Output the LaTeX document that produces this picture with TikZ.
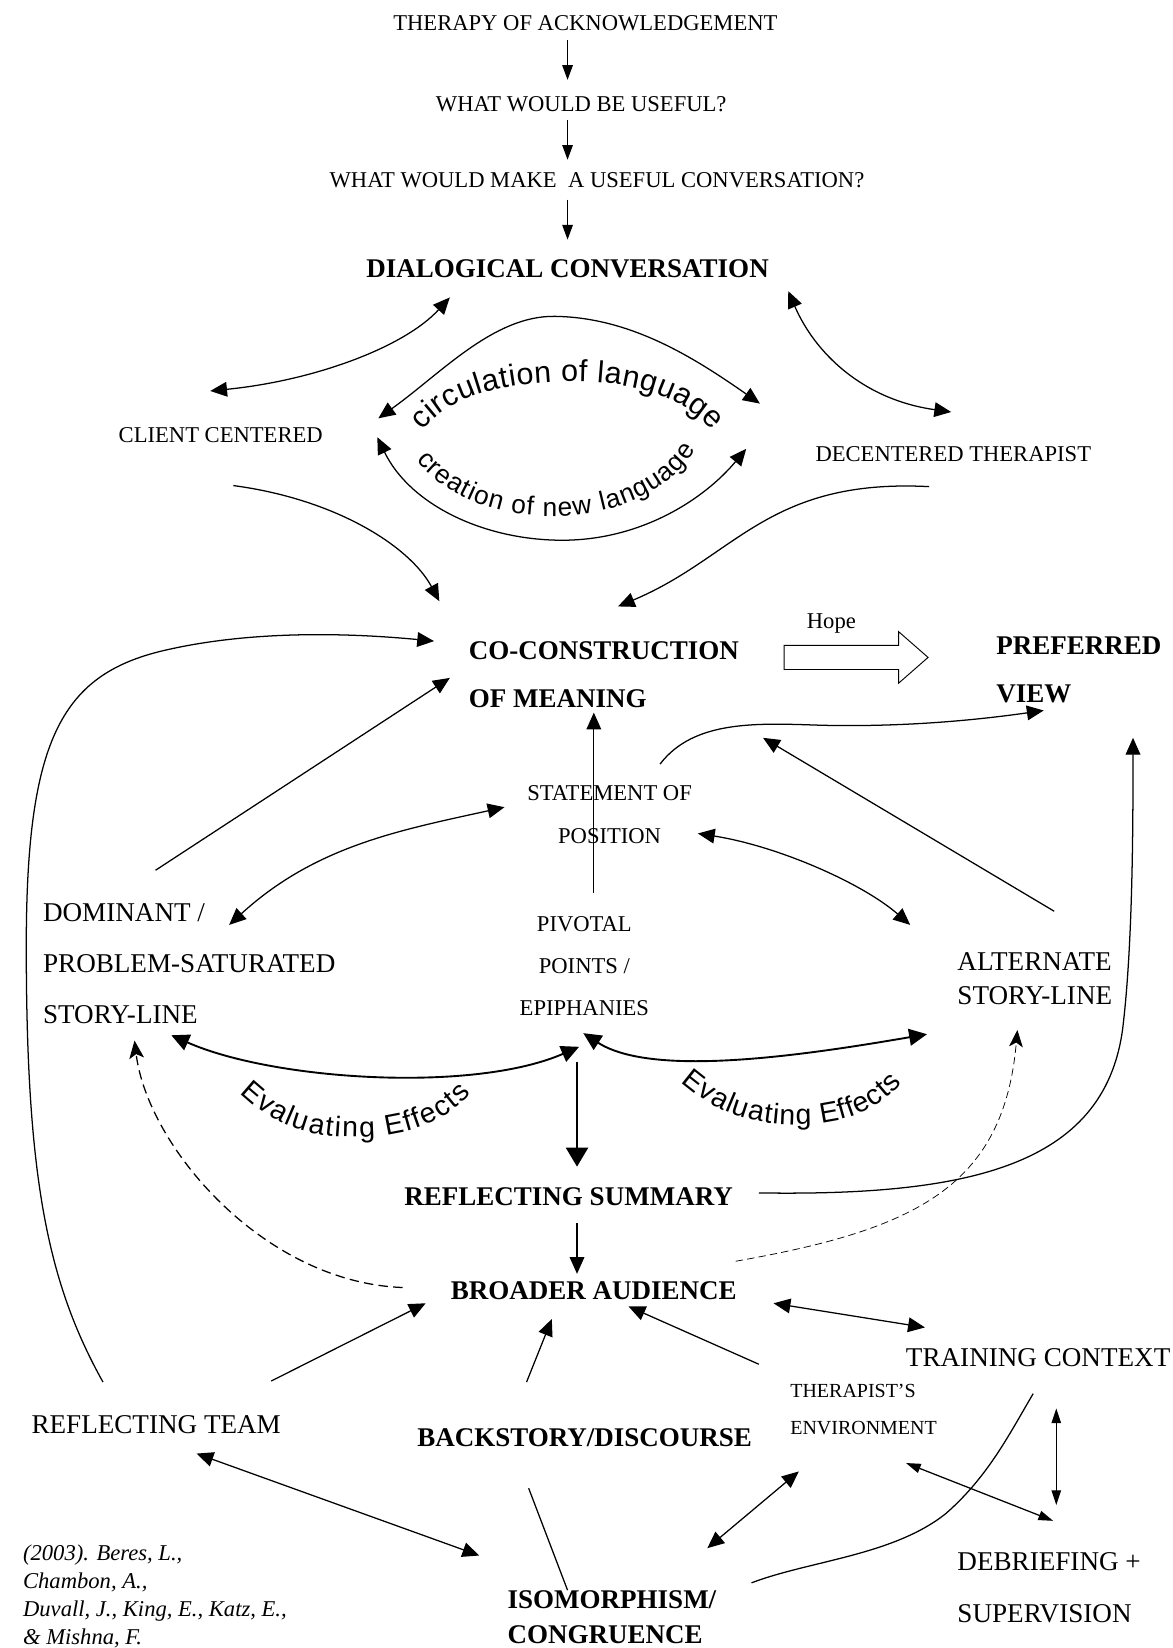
\documentclass[tikz,border=0pt]{standalone}
\usepackage{fontspec}
\setmainfont{Liberation Serif}
\newfontfamily\arialf{Liberation Sans}
\usetikzlibrary{arrows.meta,decorations.text}
\tikzset{
  txt/.style={inner sep=0pt, outer sep=0pt, font=\fontsize{21.5}{26}\selectfont},
  txtL/.style={inner sep=0pt, outer sep=0pt, font=\fontsize{25.8}{48.5}\selectfont},
  txtB/.style={inner sep=0pt, outer sep=0pt, font=\bfseries\fontsize{25.7}{46}\selectfont},
  txtS/.style={inner sep=0pt, outer sep=0pt, font=\fontsize{19}{36}\selectfont},
  txtI/.style={inner sep=0pt, outer sep=0pt, font=\itshape\fontsize{21.5}{26.7}\selectfont},
  ln/.style={line width=1.2pt},
  sarr/.style={ln, -{Triangle[length=14pt,width=10pt]}},
  arr/.style={ln, -{Triangle[length=16pt,width=14pt]}},
  darr/.style={ln, {Triangle[length=16pt,width=14pt]}-{Triangle[length=16pt,width=14pt]}},
  sdarr/.style={ln, {Triangle[length=14pt,width=9pt]}-{Triangle[length=14pt,width=9pt]}},
  tdarr/.style={line width=1.8pt, {Triangle[length=17pt,width=16pt]}-{Triangle[length=17pt,width=16pt]}},
  tarr/.style={line width=1.7pt, -{Triangle[length=18pt,width=21pt]}},
  dasharr/.style={ln, dash pattern=on 9pt off 5pt, -{Stealth[length=17pt,width=14pt,inset=4pt]}},
  tdasharr/.style={line width=0.7pt, dash pattern=on 7pt off 4pt, -{Stealth[length=16pt,width=13pt,inset=4pt]}},
  curvtxt/.style={decorate, decoration={text along path, text align={fit to path}, text={#1}}}
}
\begin{document}
\begin{tikzpicture}[x=1pt,y=-1pt]
\useasboundingbox (0,0) rectangle (1116,1568);
\fill[white] (0,0) rectangle (1116,1568);

% ---------- texts (multi-line nodes: base = last line) ----------
\node[txt, anchor=base] (t1) at (557,29) {THERAPY OF ACKNOWLEDGEMENT};
\node[txt, anchor=base] (t2) at (553,106) {WHAT WOULD BE USEFUL?};
\node[txt, anchor=base] (t3) at (568,178) {WHAT WOULD MAKE\ \ A USEFUL CONVERSATION?};
\node[txtB, anchor=base] (dc) at (540,264.5) {DIALOGICAL CONVERSATION};
\node[txt, anchor=base] (cc) at (210,421) {CLIENT CENTERED};
\node[txt, anchor=base] (dt) at (907,439) {DECENTERED THERAPIST};
\node[txtB, anchor=base west, align=left] (co) at (446,673.5) {CO-CONSTRUCTION\\OF MEANING};
\node[txtB, anchor=base west, align=left] (pv) at (948,668.5) {PREFERRED\\VIEW};
\node[txt, anchor=base] (hope) at (791,598) {Hope};
\node[txt, anchor=base, align=center, font=\fontsize{21.5}{41}\selectfont] (sp) at (580,803) {STATEMENT OF\\POSITION};
\node[txtL, anchor=base west, align=left] (dom) at (41,973.5) {DOMINANT /\\PROBLEM-SATURATED\\STORY-LINE};
\node[txt, anchor=base, align=center, font=\fontsize{21.5}{40}\selectfont] (piv) at (556,966) {PIVOTAL\\POINTS /\\EPIPHANIES};
\node[txtL, anchor=base west, align=left, font=\fontsize{25.8}{32}\selectfont] (alt) at (911,955.5) {ALTERNATE\\STORY-LINE};
\node[txtB, anchor=base] (rs) at (541,1146.5) {REFLECTING SUMMARY};
\node[txtB, anchor=base] (ba) at (565,1236.5) {BROADER AUDIENCE};
\node[txtL, anchor=base west] (tc) at (862,1300.5) {TRAINING CONTEXT};
\node[txtS, anchor=base west, align=left] (te) at (752,1365.3) {THERAPIST’S\\ENVIRONMENT};
\node[txtL, anchor=base west] (rt) at (30,1363.5) {REFLECTING TEAM};
\node[txtB, anchor=base west] (bd) at (397,1376.5) {BACKSTORY/DISCOURSE};
\node[txtB, anchor=base west, align=left, font=\bfseries\fontsize{25.7}{33}\selectfont] (iso) at (483,1563.5) {ISOMORPHISM/\\CONGRUENCE};
\node[txtL, anchor=base west, align=left, font=\fontsize{25.8}{49}\selectfont] (deb) at (911,1543.5) {DEBRIEFING +\\SUPERVISION};
\node[txtI, anchor=base west, align=left] (cit) at (22,1565) {(2003). Beres, L.,\\Chambon, A.,\\Duvall, J., King, E., Katz, E.,\\\& Mishna, F.};

% ---------- connector end points ----------
\coordinate (t1o) at (540,38);   \coordinate (t2i) at (540,76);
\coordinate (t2o) at (540,114);  \coordinate (t3i) at (540,152);
\coordinate (t3o) at (540,190);  \coordinate (dci) at (540,228);
\coordinate (dcL) at (428,283);  \coordinate (ccU) at (200,372);
\coordinate (dcR) at (750,277);  \coordinate (dtU) at (905,392);
\coordinate (cirL) at (360,398); \coordinate (cirR) at (723,384);
\coordinate (creL) at (359,416); \coordinate (creR) at (710,427);
\coordinate (ccO) at (222,462);  \coordinate (coA) at (418,572);
\coordinate (dtO) at (884,463);  \coordinate (coB) at (588,577);
\coordinate (rtO) at (98,1315);  \coordinate (coC) at (413,610);
\coordinate (domO) at (148,828); \coordinate (coD) at (428,645);
\coordinate (domI) at (218,880); \coordinate (spL) at (480,768);
\coordinate (pivO) at (565,850); \coordinate (coE) at (565,678);
\coordinate (spO) at (628,727);  \coordinate (pvA) at (993,676);
\coordinate (altO) at (1003,867);\coordinate (coF) at (726,702);
\coordinate (spR) at (664,793);  \coordinate (altI) at (866,880);
\coordinate (rsO) at (722,1135); \coordinate (pvB) at (1078,702);
\coordinate (domE) at (163,985); \coordinate (pivL) at (551,996);
\coordinate (pivR) at (555,983); \coordinate (altE) at (882,984);
\coordinate (pivD) at (549,1010);\coordinate (rsI) at (549,1110);
\coordinate (rsD) at (549,1164); \coordinate (baI) at (549,1212);
\coordinate (baL) at (383,1225); \coordinate (domB) at (128,990);
\coordinate (baR) at (700,1200); \coordinate (altB) at (968,980);
\coordinate (rtA) at (258,1314); \coordinate (baA) at (405,1240);
\coordinate (bdA) at (501,1315); \coordinate (baB) at (525,1255);
\coordinate (teA) at (722,1298); \coordinate (baC) at (598,1243);
\coordinate (baD) at (736,1240); \coordinate (tcA) at (880,1263);
\coordinate (tcB) at (1005,1340);\coordinate (debA) at (1005,1432);
\coordinate (teB) at (862,1392); \coordinate (debB) at (1002,1447);
\coordinate (teC) at (760,1400); \coordinate (isoA) at (673,1473);
\coordinate (rtB) at (187,1383); \coordinate (isoB) at (456,1480);
\coordinate (bdB) at (503,1416); \coordinate (isoC) at (540,1513);
\coordinate (isoD) at (715,1506); \coordinate (tcC) at (983,1326);

% ---------- connectors ----------
\draw[sarr] (t1o) -- (t2i);
\draw[sarr] (t2o) -- (t3i);
\draw[sarr] (t3o) -- (dci);

\draw[darr] (ccU) .. controls (300,362) and (385,330) .. (dcL);
\draw[darr] (dcR) .. controls (775,335) and (820,380) .. (dtU);

\draw[darr] (cirL) .. controls (420,355) and (470,300) .. (528,301) .. controls (600,302) and (660,340) .. (cirR);
\draw[darr] (creL) .. controls (390,480) and (460,514) .. (535,514) .. controls (610,514) and (670,475) .. (creR);

\draw[arr] (ccO) .. controls (320,475) and (390,520) .. (coA);
\draw[arr] (dtO) .. controls (730,455) and (700,530) .. (coB);
\draw[arr] (rtO) .. controls (45,1220) and (25,1120) .. (25,900) .. controls (25,700) and (60,640) .. (160,618) .. controls (240,600) and (330,602) .. (coC);
\draw[arr] (domO) -- (coD);
\draw[darr] (domI) .. controls (300,805) and (380,790) .. (spL);
\draw[arr] (pivO) -- (coE);
\draw[arr] (spO) .. controls (660,685) and (720,688) .. (780,690) .. controls (860,692) and (930,685) .. (pvA);
\draw[arr] (altO) -- (coF);
\draw[darr] (spR) .. controls (740,805) and (820,840) .. (altI);
\draw[arr] (rsO) .. controls (920,1138) and (1050,1110) .. (1068,980) .. controls (1078,900) and (1078,780) .. (pvB);

\draw[tdarr] (domE) .. controls (260,1028) and (450,1040) .. (pivL);
\draw[tdarr] (pivR) .. controls (620,1025) and (760,1005) .. (altE);
\draw[tarr] (pivD) -- (rsI);
\draw[arr] (rsD) -- (baI);

\draw[dasharr] (baL) .. controls (250,1220) and (140,1090) .. (domB);
\draw[tdasharr] (baR) .. controls (870,1170) and (955,1130) .. (altB);

\draw[arr] (rtA) -- (baA);
\draw[arr] (bdA) -- (baB);
\draw[arr] (teA) -- (baC);
\draw[darr] (baD) -- (tcA);
\draw[sdarr] (tcB) -- (debA);
\draw[sdarr] (teB) -- (debB);
\draw[darr] (teC) -- (isoA);
\draw[darr] (rtB) -- (isoB);
\draw[ln] (bdB) -- (isoC);
\draw[ln] (isoD) .. controls (770,1485) and (850,1480) .. (900,1440) .. controls (940,1405) and (960,1365) .. (tcC);

% Hope block arrow
\draw[line width=0.9pt] (746,614) -- (855,614) -- (855,601) -- (883,625.5) -- (855,650) -- (855,637) -- (746,637) -- cycle;

% ---------- curved texts ----------
\path[curvtxt={|\arialf\fontsize{29}{29}\selectfont|circulation of language}]
  (402,410) .. controls (430,375) and (480,364) .. (545,363) .. controls (605,363) and (650,378) .. (678,410);
\path[curvtxt={|\arialf\fontsize{25}{25}\selectfont|creation of new language}]
  (396,438) .. controls (430,478) and (480,492) .. (530,491) .. controls (590,490) and (640,465) .. (662,428);
\path[curvtxt={|\arialf\fontsize{27}{27}\selectfont|Evaluating Effects}]
  (228,1040) .. controls (265,1075) and (300,1082) .. (340,1082) .. controls (385,1082) and (425,1068) .. (448,1040);
\path[curvtxt={|\arialf\fontsize{27}{27}\selectfont|Evaluating Effects}]
  (648,1030) .. controls (685,1062) and (720,1070) .. (760,1070) .. controls (800,1070) and (835,1058) .. (858,1030);
\end{tikzpicture}
\end{document}
